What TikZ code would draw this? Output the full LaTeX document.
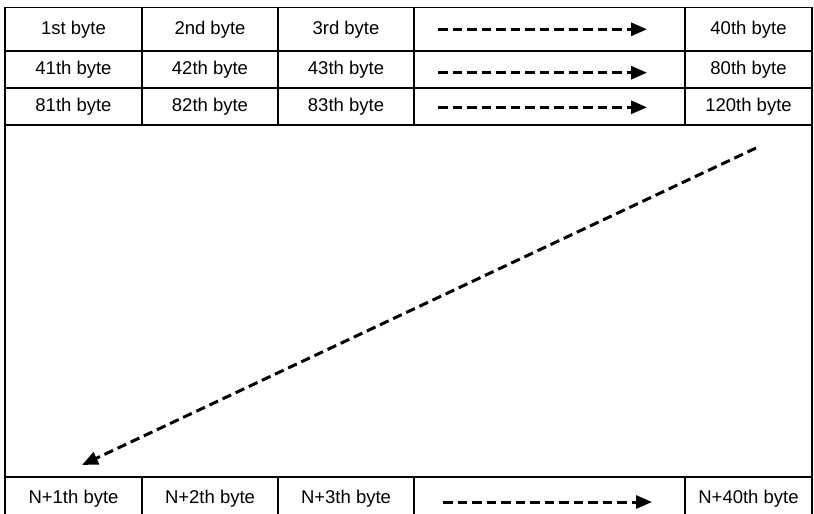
\documentclass[tikz,border=0pt]{standalone}
\usepackage{fontspec}
\setmainfont{Liberation Sans}
\usetikzlibrary{arrows.meta}
\begin{document}
\begin{tikzpicture}[x=1pt,y=-1pt,
  cell/.style={draw, line width=1.5pt, inner sep=0pt, font=\fontsize{18.5}{21}\selectfont},
  dasharrow/.style={line width=3pt, dash pattern=on 9.5pt off 5pt, -{Triangle[length=16pt,width=13pt]}}]
\clip (0,0) rectangle (814,514);
\fill[white] (0,0) rectangle (814,514);
% big area
\node[cell, minimum width=807, minimum height=352] (area) at (408.5,301) {};
% row 1
\node[cell, minimum width=137, minimum height=43.5] (r1c1) at (73.5,29.25) {1st byte};
\node[cell, minimum width=136, minimum height=43.5] (r1c2) at (210,29.25) {2nd byte};
\node[cell, minimum width=136, minimum height=43.5] (r1c3) at (346,29.25) {3rd byte};
\node[cell, minimum width=271, minimum height=43.5] (r1c4) at (549.5,29.25) {};
\node[cell, minimum width=127, minimum height=43.5] (r1c5) at (748.5,29.25) {40th byte};
% row 2
\node[cell, minimum width=137, minimum height=37] (r2c1) at (73.5,69.5) {41th byte};
\node[cell, minimum width=136, minimum height=37] (r2c2) at (210,69.5) {42th byte};
\node[cell, minimum width=136, minimum height=37] (r2c3) at (346,69.5) {43th byte};
\node[cell, minimum width=271, minimum height=37] (r2c4) at (549.5,69.5) {};
\node[cell, minimum width=127, minimum height=37] (r2c5) at (748.5,69.5) {80th byte};
% row 3
\node[cell, minimum width=137, minimum height=37] (r3c1) at (73.5,106.5) {81th byte};
\node[cell, minimum width=136, minimum height=37] (r3c2) at (210,106.5) {82th byte};
\node[cell, minimum width=136, minimum height=37] (r3c3) at (346,106.5) {83th byte};
\node[cell, minimum width=271, minimum height=37] (r3c4) at (549.5,106.5) {};
\node[cell, minimum width=127, minimum height=37] (r3c5) at (748.5,106.5) {120th byte};
% last row
\node[cell, minimum width=137, minimum height=44] (r5c1) at (73.5,499) {N+1th byte};
\node[cell, minimum width=136, minimum height=44] (r5c2) at (210,499) {N+2th byte};
\node[cell, minimum width=136, minimum height=44] (r5c3) at (346,499) {N+3th byte};
\node[cell, minimum width=271, minimum height=44] (r5c4) at (549.5,499) {};
\node[cell, minimum width=127, minimum height=44] (r5c5) at (748.5,499) {N+40th byte};
% arrows
\coordinate (a1s) at (438,29.3);  \coordinate (a1e) at (647,29.3);
\coordinate (a2s) at (438,72.7);  \coordinate (a2e) at (647,72.7);
\coordinate (a3s) at (438,107.3); \coordinate (a3e) at (647,107.3);
\coordinate (a5s) at (443,502);   \coordinate (a5e) at (652,502);
\coordinate (ds) at (756,148);    \coordinate (de) at (82,465);
\draw[dasharrow] (a1s) -- (a1e);
\draw[dasharrow] (a2s) -- (a2e);
\draw[dasharrow] (a3s) -- (a3e);
\draw[dasharrow] (a5s) -- (a5e);
\draw[dasharrow] (ds) -- (de);
\end{tikzpicture}
\end{document}
